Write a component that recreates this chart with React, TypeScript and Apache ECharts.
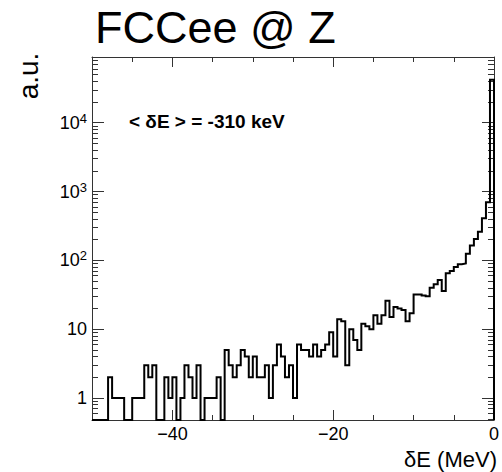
import React, { useEffect, useRef } from 'react';
import * as echarts from 'echarts';

// ---- data ----
const binLow = -50; // MeV, left edge of first bin
const binWidth = 0.5; // MeV
const counts = [
  0, 0, 0, 0, 2, 1, 1, 1, 0, 0,
  1, 1, 1, 3, 2, 3, 0, 0, 2, 1,
  2, 0, 1, 3, 2, 1, 3, 0, 1, 1,
  1, 2, 0, 5, 3, 2, 3, 5, 4, 2,
  4, 2, 2, 3, 1, 3, 6, 4, 2, 3,
  1, 6, 5, 5, 4, 6, 4, 5, 6, 9,
  4, 14, 13, 3, 10, 7, 5, 12, 11, 10,
  16, 12, 16, 26, 15, 21, 20, 19, 13, 17,
  32, 32, 31, 30, 40, 45, 52, 36, 65, 70,
  80, 88, 90, 125, 165, 205, 260, 410, 700, 42000,
];
const xMajorTicks = [-40, -20, 0];
const yMajorTicks = [1, 10, 100, 1000, 10000];
const xMin = -50;
const xMax = 0;
const yMin = 0.48;
const yMax = 90000;
const titleText = 'FCCee @ Z';
const yTitle = 'a.u.';
const xTitle = 'δE (MeV)';
const annotation = '< δE > = -310 keV';

const yMinorTicks: number[] = [];
for (let e = -1; e <= 4; e++) {
  for (let k = 2; k <= 9; k++) {
    const v = k * Math.pow(10, e);
    if (v >= yMin && v <= yMax) yMinorTicks.push(v);
  }
}

function buildStep(): number[][] {
  const pts: number[][] = [];
  counts.forEach((c, i) => {
    const lo = binLow + i * binWidth;
    const hi = lo + binWidth;
    const v = c > 0 ? c : yMin;
    pts.push([lo, v], [hi, v]);
  });
  pts.push([binLow + counts.length * binWidth, yMin]);
  return pts;
}

const FONT = '"Liberation Sans", Arial, Helvetica, sans-serif';
const frameStyle = { color: '#333', width: 1 };

export default function App() {
  const ref = useRef<HTMLDivElement>(null);
  useEffect(() => {
    if (!ref.current) return;
    const chart = echarts.init(ref.current, undefined, { renderer: 'svg' });

    const xBase = (position: string, show: boolean) => ({
      type: 'value',
      position,
      min: xMin,
      max: xMax,
      axisLine: { show, onZero: false, lineStyle: frameStyle },
      splitLine: { show: false },
    });
    const yBase = (position: string, show: boolean) => ({
      type: 'log',
      logBase: 10,
      position,
      min: yMin,
      max: yMax,
      axisLine: { show, onZero: false, lineStyle: frameStyle },
      splitLine: { show: false },
    });

    const xLabelFmt = (v: number) => (v < 0 ? '\u2212' + String(-v) : String(v));
    const yLabelFmt = (v: number) => {
      const e = Math.round(Math.log10(v));
      if (e === 0) return '{b|1}';
      if (e === 1) return '{b|10}';
      return '{b|10}{s|' + e + '}';
    };

    chart.setOption({
      animation: false,
      grid: { left: 92, right: 5, top: 57, bottom: 52, containLabel: false },
      xAxis: [
        {
          ...xBase('bottom', true),
          interval: 5,
          axisTick: { show: true, inside: true, length: 5, lineStyle: frameStyle },
          axisLabel: { show: false },
        },
        {
          ...xBase('bottom', false),
          axisTick: { show: true, inside: true, length: 10, customValues: xMajorTicks, lineStyle: frameStyle },
          axisLabel: {
            show: true,
            customValues: xMajorTicks,
            formatter: xLabelFmt,
            fontSize: 18,
            fontFamily: FONT,
            color: '#000',
            margin: 5,
          },
        },
        {
          ...xBase('top', true),
          interval: 5,
          axisTick: { show: true, inside: true, length: 5, lineStyle: frameStyle },
          axisLabel: { show: false },
        },
        {
          ...xBase('top', false),
          axisTick: { show: true, inside: true, length: 10, customValues: xMajorTicks, lineStyle: frameStyle },
          axisLabel: { show: false },
        },
      ],
      yAxis: [
        {
          ...yBase('left', true),
          axisTick: { show: true, inside: true, length: 12, customValues: yMajorTicks, lineStyle: frameStyle },
          axisLabel: {
            show: true,
            customValues: yMajorTicks,
            formatter: yLabelFmt,
            margin: 5,
            color: '#000',
            rich: {
              b: { fontSize: 18, fontFamily: FONT, color: '#000', lineHeight: 22 },
              s: { fontSize: 13, fontFamily: FONT, color: '#000', lineHeight: 13, verticalAlign: 'top' },
            },
          },
        },
        {
          ...yBase('left', false),
          axisTick: { show: true, inside: true, length: 6, customValues: yMinorTicks, lineStyle: frameStyle },
          axisLabel: { show: false },
        },
        {
          ...yBase('right', true),
          axisTick: { show: true, inside: true, length: 12, customValues: yMajorTicks, lineStyle: frameStyle },
          axisLabel: { show: false },
        },
        {
          ...yBase('right', false),
          axisTick: { show: true, inside: true, length: 6, customValues: yMinorTicks, lineStyle: frameStyle },
          axisLabel: { show: false },
        },
      ],
      series: [
        {
          type: 'line',
          xAxisIndex: 0,
          yAxisIndex: 0,
          data: buildStep(),
          symbol: 'none',
          clip: true,
          lineStyle: { color: '#000', width: 2, join: 'miter' },
        },
      ],
      graphic: [
        {
          type: 'text',
          x: 95,
          y: 27,
          style: {
            text: titleText,
            fontSize: 45,
            fontFamily: FONT,
            fill: '#000',
            textAlign: 'left',
            textVerticalAlign: 'middle',
          },
        },
        {
          type: 'text',
          x: 28,
          y: 76,
          rotation: Math.PI / 2,
          style: {
            text: yTitle,
            fontSize: 28,
            fontFamily: FONT,
            fill: '#000',
            textAlign: 'center',
            textVerticalAlign: 'middle',
          },
        },
        {
          type: 'text',
          x: 129,
          y: 121,
          style: {
            text: annotation,
            fontSize: 19,
            fontWeight: 'bold',
            fontFamily: FONT,
            fill: '#000',
            textAlign: 'left',
            textVerticalAlign: 'middle',
          },
        },
        {
          type: 'text',
          x: 497,
          y: 459,
          style: {
            text: xTitle,
            fontSize: 22,
            fontFamily: FONT,
            fill: '#000',
            textAlign: 'right',
            textVerticalAlign: 'middle',
          },
        },
      ],
    });
    return () => chart.dispose();
  }, []);
  return (
    <div
      ref={ref}
      style={{ position: 'fixed', left: 0, top: 0, width: 502, height: 472, background: '#fff' }}
    />
  );
}
